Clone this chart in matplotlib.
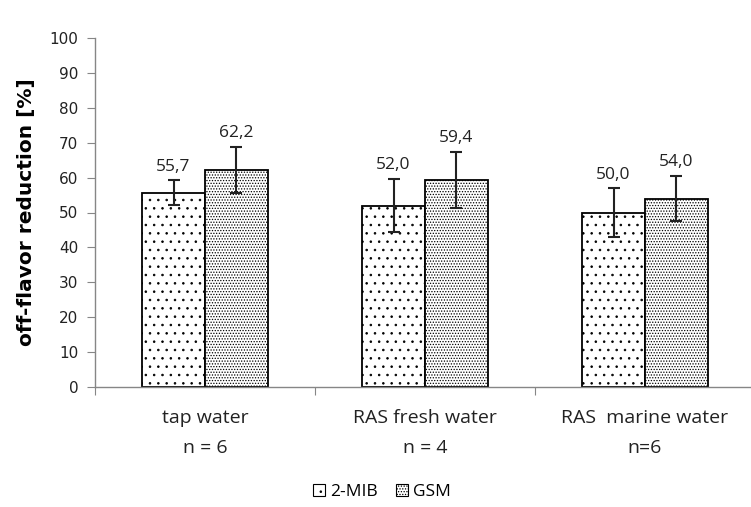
import matplotlib
matplotlib.use("Agg")
import matplotlib.pyplot as plt
from matplotlib.patches import Patch
import numpy as np

# data
categories = ["tap water", "RAS fresh water", "RAS  marine water"]
n_labels = ["n = 6", "n = 4", "n=6"]
mib = [55.7, 52.0, 50.0]
mib_err = [3.5, 7.7, 7.0]
gsm = [62.2, 59.4, 54.0]
gsm_err = [6.6, 8.0, 6.5]
series_names = ["2-MIB", "GSM"]

grey = "#868686"
plt.rcParams["hatch.linewidth"] = 0.6

fig = plt.figure(figsize=(7.51, 5.07), dpi=100)
ax = fig.add_axes([95 / 751, (507 - 387) / 507, 660 / 751, 349 / 507])

x = np.arange(len(categories))
w = 0.286
ax.bar(x - w / 2, mib, w, color="white", edgecolor="black", hatch="..", linewidth=1.3)
ax.bar(x + w / 2, gsm, w, color="white", edgecolor="black", hatch="......", linewidth=1.3)
ax.errorbar(x - w / 2, mib, yerr=mib_err, fmt="none", ecolor="#222222", elinewidth=1.5, capsize=4, capthick=1.5)
ax.errorbar(x + w / 2, gsm, yerr=gsm_err, fmt="none", ecolor="#222222", elinewidth=1.5, capsize=4, capthick=1.5)

for xs, vals, errs in [(x - w / 2, mib, mib_err), (x + w / 2, gsm, gsm_err)]:
    for xi, v, e in zip(xs, vals, errs):
        ax.annotate(f"{v:.1f}".replace(".", ","), (xi, v + e), xytext=(0, 4), textcoords="offset points",
                    ha="center", va="bottom", fontsize=12.5, family="Open Sans", color="#222222")

ax.set_xlim(-0.5, 2.5)
ax.set_ylim(0, 100)
ax.set_yticks(np.arange(0, 101, 10))
ax.set_xticks(np.arange(-0.5, 3.0, 1.0))
ax.set_xticklabels([])
ax.tick_params(axis="y", length=6, color=grey, labelsize=11, labelcolor="#222222", pad=6)
ax.tick_params(axis="x", length=6, color=grey)
for s in ["top", "right"]:
    ax.spines[s].set_visible(False)
for s in ["left", "bottom"]:
    ax.spines[s].set_color(grey)
    ax.spines[s].set_linewidth(1.0)

ax.set_ylabel("off-flavor reduction [%]", fontsize=14.5, fontweight="bold", labelpad=10)

trans = ax.get_xaxis_transform()
for xi, c, n in zip(x, categories, n_labels):
    ax.text(xi, -31 / 349, c, transform=trans, ha="center", va="center", fontsize=14, family="Open Sans", color="#222222")
    ax.text(xi, -61 / 349, n, transform=trans, ha="center", va="center", fontsize=14, family="Open Sans", color="#222222")

handles = [Patch(facecolor="white", edgecolor="black", hatch="..", linewidth=0.8),
           Patch(facecolor="white", edgecolor="black", hatch="......", linewidth=0.8)]
fig.legend(handles, series_names, loc="center", bbox_to_anchor=(382 / 751, 1 - 492 / 507), ncol=2, frameon=False,
           prop={"family": "Open Sans", "size": 12.5}, handlelength=0.7, handleheight=0.7, handletextpad=0.3,
           columnspacing=1.0)

fig.savefig("out.png", dpi=100)
